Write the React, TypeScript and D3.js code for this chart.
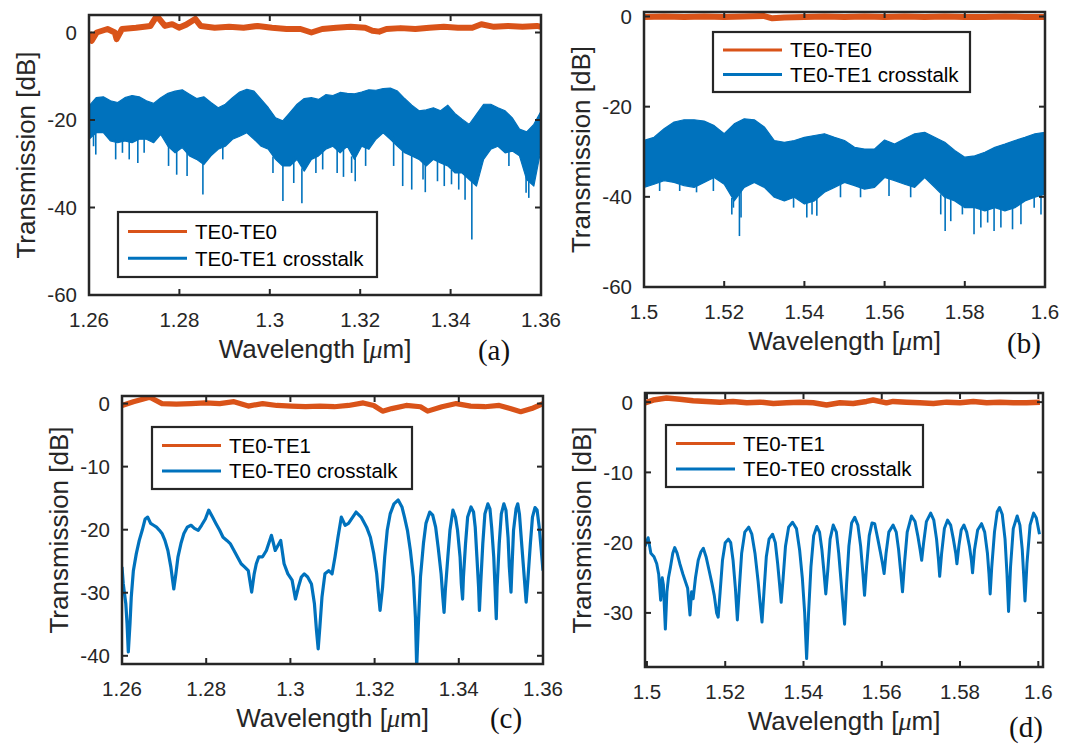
import React from 'react';
import * as d3 from 'd3';

const BLUE = '#0072BD';
const ORANGE = '#D95319';
const INK = '#262626';
const SANS = '"Liberation Sans", Arial, Helvetica, sans-serif';
const SERIF = '"Liberation Serif", "Times New Roman", serif';

// ---------- Panel (a): 1.26-1.36 um, TE0-TE0 / TE0-TE1 crosstalk ----------
const aLambda = d3.range(64).map((k) => 1.26 + k * (0.1 / 63));
const aBlueHi = [-16.8, -14.9, -14.7, -15.6, -16.0, -14.9, -14.4, -14.7, -15.6, -16.2, -14.9, -13.9, -13.4, -13.1, -14.1, -15.1, -14.7, -16.0, -17.2, -16.4, -14.9, -13.6, -13.0, -13.4, -15.3, -17.2, -19.5, -20.2, -18.3, -16.4, -15.1, -14.9, -15.3, -14.2, -14.4, -13.7, -13.9, -14.0, -13.6, -13.1, -13.2, -12.8, -12.7, -13.4, -15.1, -16.6, -17.9, -17.7, -17.2, -17.9, -16.6, -18.5, -19.8, -21.0, -18.7, -16.4, -16.4, -17.2, -17.9, -19.5, -22.1, -22.7, -21.0, -18.0];
const aBlueLo = [-24.4, -22.9, -22.9, -24.8, -25.2, -24.8, -25.2, -24.4, -24.4, -25.2, -23.3, -26.0, -27.5, -26.3, -28.2, -29.0, -30.2, -28.2, -26.7, -26.0, -24.4, -23.7, -22.9, -24.4, -26.0, -26.7, -29.0, -30.5, -30.5, -29.0, -31.7, -29.0, -28.2, -26.7, -26.0, -27.5, -26.0, -29.0, -26.0, -26.7, -24.4, -22.9, -24.4, -26.0, -27.5, -28.2, -29.0, -30.5, -29.0, -29.8, -30.5, -32.1, -32.1, -33.6, -35.1, -29.0, -26.7, -26.0, -27.5, -27.1, -28.2, -33.6, -35.1, -26.7];
const aBlueSpikes = [[1.2610, -26.0], [1.2615, -27.9], [1.2659, -29.0], [1.2674, -27.5], [1.2689, -29.0], [1.2708, -29.8], [1.2722, -27.5], [1.2776, -30.5], [1.2794, -32.5], [1.2817, -32.8], [1.2852, -37.0], [1.2896, -29.0], [1.3007, -32.1], [1.3029, -38.5], [1.3053, -34.4], [1.3071, -39.0], [1.3102, -32.1], [1.3117, -31.3], [1.3149, -32.1], [1.3163, -33.0], [1.3181, -32.1], [1.3189, -34.0], [1.3212, -30.5], [1.3274, -30.5], [1.3294, -35.1], [1.3314, -35.9], [1.3339, -33.6], [1.3344, -36.5], [1.3371, -34.0], [1.3386, -35.1], [1.3402, -34.7], [1.3418, -35.9], [1.3432, -38.2], [1.3447, -47.3], [1.3529, -30.5], [1.3567, -36.6], [1.3573, -37.8]];
const aOrange = [[1.2600, 0.0], [1.2606, -1.9], [1.2617, 0.0], [1.2641, 0.8], [1.2657, 0.0], [1.2661, -1.5], [1.2673, 0.8], [1.2704, 1.1], [1.2736, 1.5], [1.2750, 3.8], [1.2768, 1.5], [1.2784, 1.9], [1.2799, 1.1], [1.2815, 1.8], [1.2835, 3.1], [1.2847, 1.5], [1.2878, 1.1], [1.2910, 1.3], [1.2942, 1.1], [1.2973, 1.5], [1.3005, 1.1], [1.3037, 0.8], [1.3068, 0.8], [1.3092, 0.0], [1.3116, 0.8], [1.3147, 1.1], [1.3179, 1.3], [1.3211, 1.1], [1.3227, 0.4], [1.3242, 0.2], [1.3258, 0.8], [1.3290, 1.0], [1.3322, 0.8], [1.3353, 1.1], [1.3385, 1.3], [1.3416, 1.1], [1.3448, 1.1], [1.3468, 1.9], [1.3496, 1.3], [1.3527, 1.5], [1.3559, 1.3], [1.3591, 1.5], [1.3600, 1.3]];

// ---------- Panel (b): 1.5-1.6 um ----------
const bLambda = d3.range(41).map((k) => 1.5 + k * 0.0025);
const bBlueHi = [-27.5, -26.8, -24.9, -23.4, -22.9, -22.9, -23.2, -24.2, -26.0, -23.8, -22.7, -22.9, -24.5, -27.5, -27.9, -27.5, -26.8, -26.4, -26.0, -26.8, -27.5, -29.0, -29.4, -29.4, -27.4, -28.3, -27.1, -26.0, -25.7, -26.8, -27.9, -29.7, -31.2, -30.9, -30.1, -29.0, -28.3, -27.5, -26.8, -26.0, -25.7];
const bBlueLo = [-37.9, -37.2, -36.4, -36.8, -37.5, -37.9, -36.8, -35.7, -37.2, -40.9, -37.9, -36.8, -37.9, -40.1, -40.9, -40.1, -41.6, -40.9, -39.0, -37.9, -36.8, -37.5, -38.3, -37.9, -35.7, -36.4, -37.2, -37.9, -35.7, -37.9, -40.1, -40.9, -42.4, -42.4, -43.1, -42.4, -43.1, -42.4, -40.9, -40.1, -39.4];
const bBlueSpikes = [[1.5039, -38.7], [1.5089, -38.7], [1.5131, -39.0], [1.5173, -38.7], [1.5219, -43.9], [1.5223, -42.4], [1.5238, -48.7], [1.5242, -44.6], [1.5373, -42.4], [1.5406, -44.6], [1.5419, -43.9], [1.5431, -44.2], [1.5490, -40.1], [1.5540, -40.1], [1.5611, -39.8], [1.5665, -40.1], [1.5740, -43.9], [1.5751, -47.6], [1.5765, -45.4], [1.5794, -43.9], [1.5823, -48.3], [1.5840, -46.8], [1.5857, -45.7], [1.5873, -47.6], [1.5890, -46.8], [1.5919, -47.2], [1.5940, -46.1], [1.5973, -42.4], [1.5990, -43.9]];
const bOrange = [[1.500, -0.1], [1.505, 0.0], [1.510, -0.1], [1.515, 0.0], [1.520, -0.1], [1.525, 0.0], [1.530, 0.1], [1.532, -0.4], [1.535, -0.2], [1.540, -0.1], [1.545, 0.0], [1.550, -0.1], [1.555, 0.0], [1.560, -0.1], [1.565, 0.0], [1.570, -0.1], [1.575, 0.0], [1.580, -0.1], [1.585, -0.1], [1.590, 0.0], [1.595, -0.1], [1.600, -0.1]];

// ---------- Panel (c): 1.26-1.36 um, TE0-TE1 / TE0-TE0 crosstalk ----------
const cBlue = [[1.2600, -25.9], [1.2603, -28.6], [1.2609, -31.7], [1.2612, -34.9], [1.2615, -39.4], [1.2619, -34.9], [1.2622, -30.7], [1.2627, -26.5], [1.2634, -23.8], [1.2641, -21.7], [1.2648, -20.1], [1.2655, -18.3], [1.2661, -18.0], [1.2668, -19.0], [1.2675, -19.3], [1.2682, -19.6], [1.2689, -20.1], [1.2695, -20.6], [1.2702, -21.7], [1.2709, -23.3], [1.2716, -25.9], [1.2723, -29.4], [1.2728, -27.0], [1.2733, -24.3], [1.2740, -22.2], [1.2747, -20.6], [1.2755, -19.6], [1.2764, -19.3], [1.2772, -19.8], [1.2781, -20.1], [1.2789, -19.3], [1.2798, -18.3], [1.2806, -16.9], [1.2815, -18.0], [1.2823, -19.0], [1.2832, -20.1], [1.2840, -21.2], [1.2849, -21.7], [1.2857, -22.2], [1.2866, -23.3], [1.2874, -24.3], [1.2883, -25.4], [1.2891, -25.9], [1.2900, -26.5], [1.2908, -29.9], [1.2914, -27.0], [1.2919, -25.4], [1.2925, -24.3], [1.2934, -24.3], [1.2943, -23.3], [1.2955, -20.9], [1.2964, -23.3], [1.2977, -21.7], [1.2985, -25.4], [1.2994, -27.0], [1.3004, -28.0], [1.3012, -31.0], [1.3019, -29.1], [1.3026, -27.5], [1.3033, -27.0], [1.3041, -27.5], [1.3050, -28.6], [1.3057, -31.7], [1.3062, -36.0], [1.3066, -38.9], [1.3070, -35.4], [1.3075, -30.7], [1.3082, -27.0], [1.3091, -26.5], [1.3099, -27.0], [1.3106, -24.3], [1.3113, -21.2], [1.3121, -18.0], [1.3130, -19.3], [1.3138, -19.0], [1.3156, -17.2], [1.3168, -18.0], [1.3181, -19.6], [1.3190, -21.2], [1.3198, -23.8], [1.3205, -27.0], [1.3210, -30.7], [1.3213, -32.8], [1.3219, -29.1], [1.3224, -24.3], [1.3230, -20.1], [1.3237, -17.5], [1.3246, -15.9], [1.3256, -15.3], [1.3265, -16.4], [1.3271, -18.0], [1.3278, -20.1], [1.3285, -23.3], [1.3292, -27.5], [1.3297, -33.9], [1.3300, -41.8], [1.3304, -34.9], [1.3309, -27.5], [1.3316, -22.2], [1.3322, -19.0], [1.3331, -17.2], [1.3338, -17.7], [1.3345, -19.6], [1.3351, -22.8], [1.3358, -27.0], [1.3362, -30.7], [1.3365, -33.1], [1.3368, -29.6], [1.3374, -24.3], [1.3379, -20.1], [1.3386, -16.9], [1.3392, -18.0], [1.3397, -20.1], [1.3403, -24.3], [1.3406, -28.6], [1.3409, -31.0], [1.3411, -27.5], [1.3416, -22.2], [1.3421, -18.0], [1.3429, -16.4], [1.3435, -17.2], [1.3439, -19.6], [1.3443, -24.3], [1.3447, -29.1], [1.3449, -32.8], [1.3452, -28.6], [1.3457, -22.2], [1.3462, -17.5], [1.3469, -15.9], [1.3474, -16.7], [1.3478, -19.6], [1.3483, -24.3], [1.3486, -29.1], [1.3489, -34.1], [1.3491, -29.1], [1.3496, -22.2], [1.3501, -17.5], [1.3507, -15.9], [1.3512, -16.9], [1.3517, -21.2], [1.3520, -25.9], [1.3524, -29.9], [1.3526, -26.5], [1.3530, -20.1], [1.3536, -16.7], [1.3540, -15.9], [1.3544, -17.5], [1.3550, -22.8], [1.3556, -28.0], [1.3560, -31.5], [1.3564, -28.0], [1.3570, -22.2], [1.3575, -18.0], [1.3581, -16.5], [1.3586, -16.9], [1.3591, -19.6], [1.3596, -23.3], [1.3600, -26.5]];
const cOrange = [[1.2600, -0.3], [1.2627, 0.3], [1.2666, 1.0], [1.2695, 0.0], [1.2729, -0.1], [1.2764, 0.0], [1.2798, 0.1], [1.2832, 0.0], [1.2866, 0.3], [1.2900, -0.4], [1.2934, 0.0], [1.2968, -0.3], [1.3002, -0.4], [1.3036, -0.5], [1.3070, -0.4], [1.3104, -0.5], [1.3138, -0.3], [1.3173, 0.1], [1.3198, -0.3], [1.3219, -1.2], [1.3241, -0.8], [1.3275, -0.3], [1.3309, -0.5], [1.3326, -1.2], [1.3360, -0.5], [1.3394, 0.0], [1.3428, -0.4], [1.3462, -0.5], [1.3496, -0.3], [1.3522, -0.8], [1.3547, -1.3], [1.3573, -0.8], [1.3600, 0.0]];

// ---------- Panel (d): 1.5-1.6 um ----------
const dBlue = [[1.4995, -20.5], [1.5003, -19.3], [1.5010, -21.5], [1.5018, -22.0], [1.5025, -23.0], [1.5030, -24.5], [1.5035, -28.2], [1.5039, -25.0], [1.5042, -26.0], [1.5047, -32.3], [1.5051, -27.0], [1.5055, -25.0], [1.5060, -23.5], [1.5066, -21.5], [1.5071, -20.7], [1.5077, -21.5], [1.5084, -23.0], [1.5092, -24.5], [1.5098, -25.5], [1.5104, -26.5], [1.5110, -30.3], [1.5114, -27.0], [1.5118, -28.0], [1.5124, -25.0], [1.5131, -22.5], [1.5138, -21.3], [1.5144, -20.8], [1.5151, -22.0], [1.5159, -24.0], [1.5166, -25.8], [1.5172, -27.5], [1.5178, -30.0], [1.5182, -30.6], [1.5187, -27.0], [1.5193, -22.5], [1.5200, -20.0], [1.5208, -19.5], [1.5214, -20.0], [1.5220, -22.5], [1.5226, -26.5], [1.5231, -31.0], [1.5236, -26.5], [1.5242, -21.5], [1.5250, -18.5], [1.5260, -17.8], [1.5268, -18.8], [1.5276, -21.5], [1.5284, -25.5], [1.5289, -28.5], [1.5294, -31.3], [1.5299, -27.0], [1.5305, -22.0], [1.5312, -19.5], [1.5321, -18.8], [1.5328, -20.0], [1.5334, -23.0], [1.5339, -26.0], [1.5343, -28.5], [1.5348, -25.0], [1.5354, -20.5], [1.5362, -17.8], [1.5372, -17.1], [1.5382, -18.0], [1.5390, -21.0], [1.5397, -25.0], [1.5403, -30.0], [1.5408, -36.5], [1.5413, -30.0], [1.5419, -23.5], [1.5426, -19.0], [1.5434, -17.7], [1.5441, -18.5], [1.5447, -21.0], [1.5452, -24.0], [1.5457, -27.3], [1.5462, -24.0], [1.5468, -19.5], [1.5476, -17.5], [1.5484, -18.5], [1.5490, -21.5], [1.5496, -25.5], [1.5501, -29.0], [1.5505, -31.6], [1.5510, -26.0], [1.5516, -20.5], [1.5523, -17.2], [1.5531, -16.4], [1.5539, -17.5], [1.5546, -20.5], [1.5552, -24.5], [1.5556, -27.5], [1.5561, -23.5], [1.5568, -19.0], [1.5575, -17.2], [1.5582, -17.3], [1.5590, -19.5], [1.5597, -21.5], [1.5602, -23.0], [1.5606, -24.4], [1.5611, -21.5], [1.5618, -18.5], [1.5629, -17.5], [1.5637, -18.5], [1.5643, -21.0], [1.5649, -24.5], [1.5653, -27.0], [1.5658, -23.0], [1.5665, -18.5], [1.5676, -16.2], [1.5685, -17.0], [1.5692, -19.0], [1.5698, -21.0], [1.5702, -22.5], [1.5707, -20.0], [1.5714, -17.0], [1.5725, -15.8], [1.5733, -16.8], [1.5740, -19.5], [1.5745, -22.5], [1.5748, -24.8], [1.5753, -21.5], [1.5760, -18.0], [1.5768, -16.8], [1.5776, -17.5], [1.5783, -19.5], [1.5789, -21.5], [1.5792, -23.0], [1.5797, -20.5], [1.5803, -18.2], [1.5810, -17.5], [1.5817, -18.5], [1.5824, -20.5], [1.5829, -22.5], [1.5832, -24.3], [1.5837, -21.0], [1.5845, -18.2], [1.5855, -17.3], [1.5863, -18.5], [1.5870, -21.5], [1.5874, -24.5], [1.5877, -27.3], [1.5881, -23.5], [1.5888, -18.5], [1.5895, -15.6], [1.5901, -15.0], [1.5908, -16.0], [1.5915, -19.5], [1.5920, -24.5], [1.5924, -29.8], [1.5929, -23.5], [1.5936, -18.0], [1.5946, -16.2], [1.5953, -17.5], [1.5959, -21.0], [1.5963, -25.0], [1.5966, -28.3], [1.5971, -23.0], [1.5979, -17.5], [1.5988, -15.8], [1.5995, -16.5], [1.6003, -18.8]];
const dOrange = [[1.4995, -0.1], [1.5016, 0.3], [1.5050, 0.6], [1.5084, 0.4], [1.5118, 0.2], [1.5152, 0.1], [1.5186, 0.0], [1.5220, 0.1], [1.5255, -0.1], [1.5289, 0.0], [1.5323, -0.2], [1.5357, -0.1], [1.5391, 0.0], [1.5425, -0.1], [1.5459, -0.4], [1.5493, -0.1], [1.5527, -0.2], [1.5561, 0.1], [1.5578, 0.3], [1.5612, -0.1], [1.5629, 0.1], [1.5663, 0.0], [1.5697, -0.1], [1.5732, -0.2], [1.5766, 0.0], [1.5800, -0.1], [1.5834, 0.1], [1.5868, -0.1], [1.5902, 0.0], [1.5936, -0.1], [1.5970, -0.1], [1.6004, 0.0]];

// ---------- Ticks and labels ----------
const xTicksShort = [1.26, 1.28, 1.3, 1.32, 1.34, 1.36];
const xTickLabelsShort = ['1.26', '1.28', '1.3', '1.32', '1.34', '1.36'];
const xTicksLong = [1.5, 1.52, 1.54, 1.56, 1.58, 1.6];
const xTickLabelsLong = ['1.5', '1.52', '1.54', '1.56', '1.58', '1.6'];
const yTicksTop = [-60, -40, -20, 0];
const yTicksC = [-40, -30, -20, -10, 0];
const yTicksD = [-30, -20, -10, 0];
const legendTop = ['TE0-TE0', 'TE0-TE1 crosstalk'];
const legendBottom = ['TE0-TE1', 'TE0-TE0 crosstalk'];
const panelLetters = ['(a)', '(b)', '(c)', '(d)'];

type Pt = number[];

const panels = [
  {
    id: 'a', box: { x0: 89, x1: 541, y0: 15, y1: 295 }, xDomain: [1.26, 1.36], yDomain: [-60, 4],
    xTicks: xTicksShort, xLabels: xTickLabelsShort, yTicks: yTicksTop,
    band: { grid: aLambda, hi: aBlueHi, lo: aBlueLo, spikes: aBlueSpikes }, blue: null as Pt[] | null, blueW: 0, orange: aOrange, orangeW: 6,
    legend: { x: 118, y: 212, w: 259, h: 65, labels: legendTop },
    letter: { x: 494, y: 360, t: panelLetters[0] },
  },
  {
    id: 'b', box: { x0: 644, x1: 1045, y0: 12, y1: 287 }, xDomain: [1.5, 1.6], yDomain: [-60, 1],
    xTicks: xTicksLong, xLabels: xTickLabelsLong, yTicks: yTicksTop,
    band: { grid: bLambda, hi: bBlueHi, lo: bBlueLo, spikes: bBlueSpikes }, blue: null as Pt[] | null, blueW: 0, orange: bOrange, orangeW: 6,
    legend: { x: 713, y: 32, w: 257, h: 60, labels: legendTop },
    letter: { x: 1024, y: 353, t: panelLetters[1] },
  },
  {
    id: 'c', box: { x0: 122, x1: 543, y0: 396, y1: 664 }, xDomain: [1.26, 1.36], yDomain: [-41.3, 1.2],
    xTicks: xTicksShort, xLabels: xTickLabelsShort, yTicks: yTicksC,
    band: null, blue: cBlue, blueW: 3.2, orange: cOrange, orangeW: 5.2,
    legend: { x: 152, y: 427, w: 260, h: 62, labels: legendBottom },
    letter: { x: 506, y: 728, t: panelLetters[2] },
  },
  {
    id: 'd', box: { x0: 645, x1: 1043, y0: 393, y1: 667 }, xDomain: [1.4995, 1.6012], yDomain: [-37.7, 1.3],
    xTicks: xTicksLong, xLabels: xTickLabelsLong, yTicks: yTicksD,
    band: null, blue: dBlue, blueW: 3, orange: dOrange, orangeW: 5.5,
    legend: { x: 666, y: 425, w: 257, h: 62, labels: legendBottom },
    letter: { x: 1026, y: 737, t: panelLetters[3] },
  },
];

function Panel({ p }: { p: any }) {
  const { x0, x1, y0, y1 } = p.box;
  const x = d3.scaleLinear().domain(p.xDomain).range([x0, x1]);
  const y = d3.scaleLinear().domain(p.yDomain).range([y1, y0]);
  const line = d3.line<Pt>().x((d) => x(d[0])).y((d) => y(d[1]));
  const clipId = `clip-${p.id}`;

  let bandPath = '';
  let spikeEls: any[] = [];
  if (p.band) {
    const g = p.band.grid;
    const top: Pt[] = g.map((l: number, i: number) => [l, p.band.hi[i]]);
    const bot: Pt[] = g.map((l: number, i: number) => [l, p.band.lo[i]]).reverse();
    bandPath = (line(top.concat(bot)) || '') + 'Z';
    const step = g[1] - g[0];
    spikeEls = p.band.spikes.map((s: Pt, i: number) => {
      const idx = Math.max(0, Math.min(g.length - 1, Math.round((s[0] - g[0]) / step)));
      const base = p.band.lo[idx];
      return (
        <line key={i} x1={x(s[0])} x2={x(s[0])} y1={y(base) - 3} y2={y(s[1])}
          stroke={BLUE} strokeWidth={1.6} />
      );
    });
  }

  const tickLen = 6;
  const lg = p.legend;
  const cx = (x0 + x1) / 2;
  const cy = (y0 + y1) / 2;

  return (
    <g>
      <defs>
        <clipPath id={clipId}>
          <rect x={x0} y={y0} width={x1 - x0} height={y1 - y0} />
        </clipPath>
      </defs>
      <g clipPath={`url(#${clipId})`}>
        {p.band && <path d={bandPath} fill={BLUE} stroke={BLUE} strokeWidth={1.2} strokeLinejoin="round" />}
        {spikeEls}
        {p.blue && <path d={line(p.blue) || ''} fill="none" stroke={BLUE} strokeWidth={p.blueW} strokeLinejoin="round" />}
        <path d={line(p.orange) || ''} fill="none" stroke={ORANGE} strokeWidth={p.orangeW} strokeLinejoin="round" />
      </g>
      {/* ticks on all four sides, pointing inward */}
      {p.xTicks.map((t: number, i: number) => (
        <g key={`xt${i}`}>
          <line x1={x(t)} x2={x(t)} y1={y1} y2={y1 - tickLen} stroke={INK} strokeWidth={2} />
          <line x1={x(t)} x2={x(t)} y1={y0} y2={y0 + tickLen} stroke={INK} strokeWidth={2} />
          <text x={x(t)} y={y1 + 32} textAnchor="middle" fontFamily={SANS} fontSize={20.5} fill={INK}>{p.xLabels[i]}</text>
        </g>
      ))}
      {p.yTicks.map((t: number, i: number) => (
        <g key={`yt${i}`}>
          <line x1={x0} x2={x0 + tickLen} y1={y(t)} y2={y(t)} stroke={INK} strokeWidth={2} />
          <line x1={x1} x2={x1 - tickLen} y1={y(t)} y2={y(t)} stroke={INK} strokeWidth={2} />
          <text x={x0 - 12} y={y(t)} dy="0.36em" textAnchor="end" fontFamily={SANS} fontSize={20.5} fill={INK}>{String(t)}</text>
        </g>
      ))}
      <rect x={x0} y={y0} width={x1 - x0} height={y1 - y0} fill="none" stroke={INK} strokeWidth={2.5} />
      {/* legend */}
      <rect x={lg.x} y={lg.y} width={lg.w} height={lg.h} fill="#fff" stroke={INK} strokeWidth={2.2} />
      {lg.labels.map((lab: string, i: number) => {
        const ry = lg.y + lg.h * (i === 0 ? 0.3 : 0.71);
        return (
          <g key={`lg${i}`}>
            <line x1={lg.x + 10} x2={lg.x + 69} y1={ry} y2={ry} stroke={i === 0 ? ORANGE : BLUE} strokeWidth={3} />
            <text x={lg.x + 77} y={ry} dy="0.36em" fontFamily={SANS} fontSize={20.5} fill="#000">{lab}</text>
          </g>
        );
      })}
      {/* axis labels */}
      <text x={cx} y={y1 + 63} textAnchor="middle" fontFamily={SANS} fontSize={26} fill={INK}>
        Wavelength [<tspan fontFamily={SERIF} fontStyle="italic">μ</tspan>m]
      </text>
      <text transform={`translate(${x0 - 54},${cy}) rotate(-90)`} textAnchor="middle" fontFamily={SANS} fontSize={26} fill={INK}>
        Transmission [dB]
      </text>
      <text x={p.letter.x} y={p.letter.y} textAnchor="middle" fontFamily={SERIF} fontSize={29} fill="#111">{p.letter.t}</text>
    </g>
  );
}

export default function App() {
  return (
    <svg width={1071} height={744} viewBox="0 0 1071 744"
      style={{ position: 'absolute', left: 0, top: 0, background: '#fff', display: 'block' }}>
      <rect x={0} y={0} width={1071} height={744} fill="#fff" />
      {panels.map((p) => <Panel key={p.id} p={p} />)}
    </svg>
  );
}
